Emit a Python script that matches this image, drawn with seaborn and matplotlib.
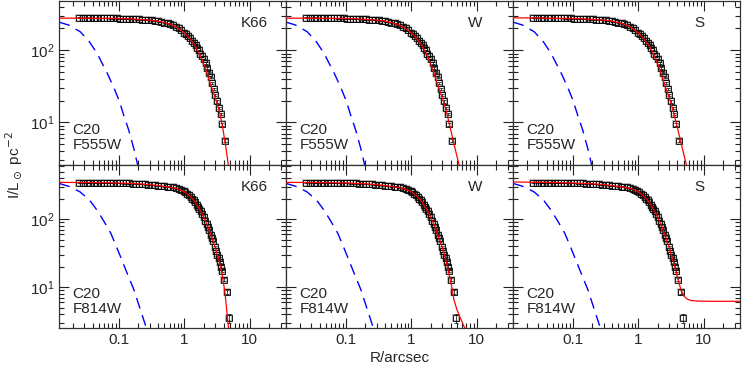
import matplotlib
matplotlib.use('Agg')
import numpy as np
import pandas as pd
import seaborn as sns
import matplotlib.pyplot as plt
from matplotlib.ticker import NullFormatter, FixedLocator, FixedFormatter

# surface brightness profiles (same data in every column of a row)
r_f555 = [0.025, 0.029, 0.033, 0.037, 0.042, 0.047, 0.053, 0.059, 0.066, 0.074,
          0.083, 0.093, 0.104, 0.116, 0.13, 0.146, 0.163, 0.182, 0.204, 0.228,
          0.255, 0.285, 0.32, 0.36, 0.40, 0.45, 0.50, 0.56, 0.62, 0.68,
          0.75, 0.83, 0.91, 1.0, 1.08, 1.16, 1.25, 1.34, 1.42, 1.5,
          1.59, 1.68, 1.78, 1.9, 2.0, 2.14, 2.26, 2.4, 2.54, 2.7,
          2.86, 3.0, 3.2, 3.4, 3.6, 3.85, 4.25]
i_f555 = [283, 281, 282, 280, 281, 279, 280, 278, 279, 277,
          277, 276, 275, 275, 273, 272, 271, 269, 268, 266,
          264, 262, 259, 256, 252, 247, 242, 236, 229, 222,
          212, 200, 189, 176, 166, 156, 146, 136, 127, 118,
          108, 100, 90, 82, 75, 66, 57, 49, 42, 35,
          29, 24, 19.5, 16, 13, 9.4, 5.6]
e_f555 = [.01, .01, .01, .01, .01, .01, .01, .01, .01, .01,
          .01, .01, .01, .01, .01, .01, .01, .01, .01, .01,
          .01, .01, .01, .01, .01, .01, .01, .01, .01, .01,
          .015, .015, .015, .015, .015, .015, .015, .015, .015, .02,
          .02, .02, .02, .02, .02, .025, .025, .025, .025, .03,
          .03, .03, .035, .035, .04, .045, .05]

r_f814 = [0.025, 0.029, 0.033, 0.037, 0.042, 0.047, 0.053, 0.059, 0.066, 0.074,
          0.083, 0.093, 0.104, 0.116, 0.13, 0.146, 0.163, 0.182, 0.204, 0.228,
          0.255, 0.285, 0.32, 0.36, 0.40, 0.45, 0.50, 0.56, 0.62, 0.68,
          0.75, 0.83, 0.9, 0.98, 1.05, 1.12, 1.19, 1.26, 1.33, 1.41,
          1.48, 1.55, 1.62, 1.69, 1.8, 1.9, 2.0, 2.1, 2.21, 2.3,
          2.4, 2.54, 2.67, 2.8, 2.95, 3.08, 3.22, 3.36, 3.52, 3.68,
          3.84, 4.06, 4.47, 4.84]
i_f814 = [343, 345, 342, 344, 342, 343, 341, 342, 340, 341,
          339, 339, 338, 337, 336, 334, 333, 331, 329, 327,
          324, 321, 318, 314, 311, 308, 304, 300, 296, 292,
          286, 278, 268, 257, 247, 237, 224, 212, 200, 189,
          176, 164, 153, 143, 132, 119, 106, 95, 84, 76,
          69, 58, 52, 47, 39.5, 34.5, 30, 26.5, 23.3, 20,
          17.5, 12.8, 8.5, 3.5]
e_f814 = [.01, .01, .01, .01, .01, .01, .01, .01, .01, .01,
          .01, .01, .01, .01, .01, .01, .01, .01, .01, .01,
          .01, .01, .01, .01, .01, .01, .01, .01, .01, .01,
          .015, .015, .015, .015, .015, .015, .015, .015, .015, .02,
          .02, .02, .02, .02, .02, .02, .025, .025, .025, .025,
          .03, .03, .03, .03, .035, .035, .035, .04, .04, .045,
          .05, .05, .06, .15]

# model fits (red) per panel
r_k66_555 = [0.0123, 0.03, 0.06, 0.1, 0.15, 0.2, 0.3, 0.4, 0.5, 0.6, 0.7, 0.8, 1.0, 1.2,
             1.45, 1.75, 2.1, 2.48, 2.8, 3.15, 3.53, 3.9, 4.3, 4.73, 5.1]
i_k66_555 = [278, 278, 277, 275, 272, 268, 261, 252, 242, 230, 217, 203, 175, 148,
             118, 86, 57, 36, 26, 19, 13.2, 8.3, 4.8, 2.6, 1.5]
r_w_555 = [0.0123, 0.03, 0.06, 0.1, 0.15, 0.2, 0.3, 0.4, 0.5, 0.6, 0.7, 0.8, 1.0, 1.2,
           1.45, 1.75, 2.1, 2.48, 2.8, 3.15, 3.53, 3.9, 4.4, 4.9, 5.4, 6.0]
i_w_555 = [278, 278, 277, 275, 272, 268, 261, 252, 242, 230, 217, 203, 175, 148,
           118, 86, 57, 36, 26, 19, 13.2, 9.0, 5.6, 3.7, 2.6, 1.7]
r_s_555 = [0.0123, 0.03, 0.06, 0.1, 0.15, 0.2, 0.3, 0.4, 0.5, 0.6, 0.7, 0.8, 1.0, 1.2,
           1.45, 1.75, 2.1, 2.48, 2.8, 3.15, 3.53, 3.9, 4.4, 4.9, 5.4, 6.0]
i_s_555 = [281, 279, 277, 275, 272, 268, 261, 252, 242, 230, 217, 203, 175, 148,
           118, 86, 57, 36, 26, 19, 13.2, 9.2, 5.8, 3.9, 2.7, 1.9]

r_k66_814 = [0.0123, 0.05, 0.1, 0.2, 0.3, 0.4, 0.5, 0.6, 0.7, 0.8, 1.0, 1.2, 1.4, 1.6,
             1.8, 2.0, 2.3, 2.6, 3.0, 3.4, 3.8, 4.2, 4.6, 4.8, 5.0]
i_k66_814 = [347, 344, 340, 331, 321, 311, 302, 294, 287, 279, 254, 222, 190, 157,
             130, 106, 78, 56, 38, 25, 15.5, 8.5, 3.5, 2.4, 1.3]
r_w_814 = [0.0123, 0.05, 0.1, 0.2, 0.3, 0.4, 0.5, 0.6, 0.7, 0.8, 1.0, 1.2, 1.4, 1.6,
           1.8, 2.0, 2.3, 2.6, 3.0, 3.4, 3.8, 4.2, 4.5, 5.0, 5.6, 6.6, 7.5]
i_w_814 = [347, 344, 340, 331, 321, 311, 302, 294, 287, 279, 254, 222, 190, 157,
           130, 106, 78, 56, 38, 25, 15.5, 9.8, 6.6, 4.7, 3.6, 2.5, 1.9]
r_s_814 = [0.0123, 0.05, 0.1, 0.2, 0.3, 0.4, 0.5, 0.6, 0.7, 0.8, 1.0, 1.2, 1.4, 1.6,
           1.8, 2.0, 2.3, 2.6, 3.0, 3.4, 3.8, 4.2, 4.6, 5.0, 5.6, 6.5, 8.0, 12, 20, 36]
i_s_814 = [352, 345, 340, 331, 321, 311, 302, 294, 287, 279, 254, 222, 190, 157,
           130, 106, 78, 56, 38, 25, 17, 11.5, 8.8, 7.4, 6.7, 6.35, 6.25, 6.2, 6.2, 6.2]

# PSF (blue dashed)
r_psf_555 = [0.0123, 0.0173, 0.026, 0.036, 0.047, 0.0675, 0.085, 0.102, 0.12, 0.143, 0.17, 0.195, 0.22]
i_psf_555 = [245, 223, 180, 130, 90, 47.5, 30, 20, 12.5, 7.8, 4.4, 2.6, 1.7]
r_psf_814 = [0.0123, 0.018, 0.026, 0.036, 0.047, 0.06, 0.076, 0.09, 0.107, 0.135, 0.171, 0.21, 0.259, 0.29]
i_psf_814 = [335, 300, 250, 190, 135, 92, 62, 42, 28, 16, 9.2, 5.0, 2.7, 2.0]

models = ['K66', 'W', 'S']
filters = ['F555W', 'F814W']

data = {'F555W': (r_f555, i_f555, e_f555), 'F814W': (r_f814, i_f814, e_f814)}
fits = {('F555W', 'K66'): (r_k66_555, i_k66_555), ('F555W', 'W'): (r_w_555, i_w_555),
        ('F555W', 'S'): (r_s_555, i_s_555), ('F814W', 'K66'): (r_k66_814, i_k66_814),
        ('F814W', 'W'): (r_w_814, i_w_814), ('F814W', 'S'): (r_s_814, i_s_814)}
psf = {'F555W': (r_psf_555, i_psf_555), 'F814W': (r_psf_814, i_psf_814)}
ylims = {'F555W': (2.61, 479), 'F814W': (2.51, 634)}

sns.set_style('ticks')
plt.rcParams['font.family'] = ['Liberation Sans', 'DejaVu Sans']
plt.rcParams['font.size'] = 11

fig, axes = plt.subplots(2, 3, figsize=(7.47, 3.70), dpi=100, sharex=True, sharey='row',
                         gridspec_kw=dict(wspace=0, hspace=0, left=0.079, right=0.9906,
                                          top=0.997, bottom=0.1135))

for row, flt in enumerate(filters):
    r, i, e = data[flt]
    df = pd.DataFrame({'R': r, 'I': i, 'err': np.array(i) * np.array(e)})
    for col, mod in enumerate(models):
        ax = axes[row, col]
        ax.set_xscale('log')
        ax.set_yscale('log')

        pr, pi = psf[flt]
        sns.lineplot(x=pr, y=pi, ax=ax, color='blue', lw=1.0, dashes=False,
                     linestyle=(0, (8, 5)), sort=False, estimator=None)

        # light gray halo under each point
        sns.lineplot(data=df, x='R', y='I', ax=ax, marker='s', linestyle='', ms=5.0,
                     mfc='none', mec='#b4b4b4', mew=1.2, estimator=None)
        ax.errorbar(df['R'], df['I'], yerr=df['err'], fmt='none', ecolor='k',
                    elinewidth=0.5, capsize=1.5, capthick=0.5, zorder=3)
        sns.lineplot(data=df, x='R', y='I', ax=ax, marker='s', linestyle='', ms=4.2,
                     mfc='none', mec='k', mew=0.6, estimator=None, zorder=4)

        fr, fi = fits[(flt, mod)]
        sns.lineplot(x=fr, y=fi, ax=ax, color='red', lw=0.9, sort=False,
                     estimator=None, zorder=5)

        ax.set_xlim(0.0123, 36)
        ax.set_ylim(*ylims[flt])
        ax.set_xlabel('')
        ax.set_ylabel('')
        ax.tick_params(which='both', direction='in', top=True, right=True,
                       width=0.8, color='#222')
        ax.tick_params(which='major', length=7)
        ax.tick_params(which='minor', length=3.5)
        ax.yaxis.set_minor_formatter(NullFormatter())
        for s in ax.spines.values():
            s.set_color('#333')
            s.set_linewidth(0.9)

        ax.text(0.80, 0.865, mod, transform=ax.transAxes, ha='left', va='center', fontsize=11)
        ax.text(0.06, 0.075, 'C20\n' + flt, transform=ax.transAxes, ha='left', va='bottom',
                fontsize=11, linespacing=1.1)

axes[1, 0].xaxis.set_major_locator(FixedLocator([0.1, 1, 10]))
axes[1, 0].xaxis.set_major_formatter(FixedFormatter(['0.1', '1', '10']))
axes[1, 0].xaxis.set_minor_formatter(NullFormatter())

fig.text(399.5 / 747, 1 - 358 / 370, 'R/arcsec', ha='center', va='center', fontsize=11)
fig.text(0.019, 0.555, r'I/L$_\odot$ pc$^{-2}$', ha='center', va='center',
         rotation=90, fontsize=11)

fig.savefig('out.png', dpi=100)
